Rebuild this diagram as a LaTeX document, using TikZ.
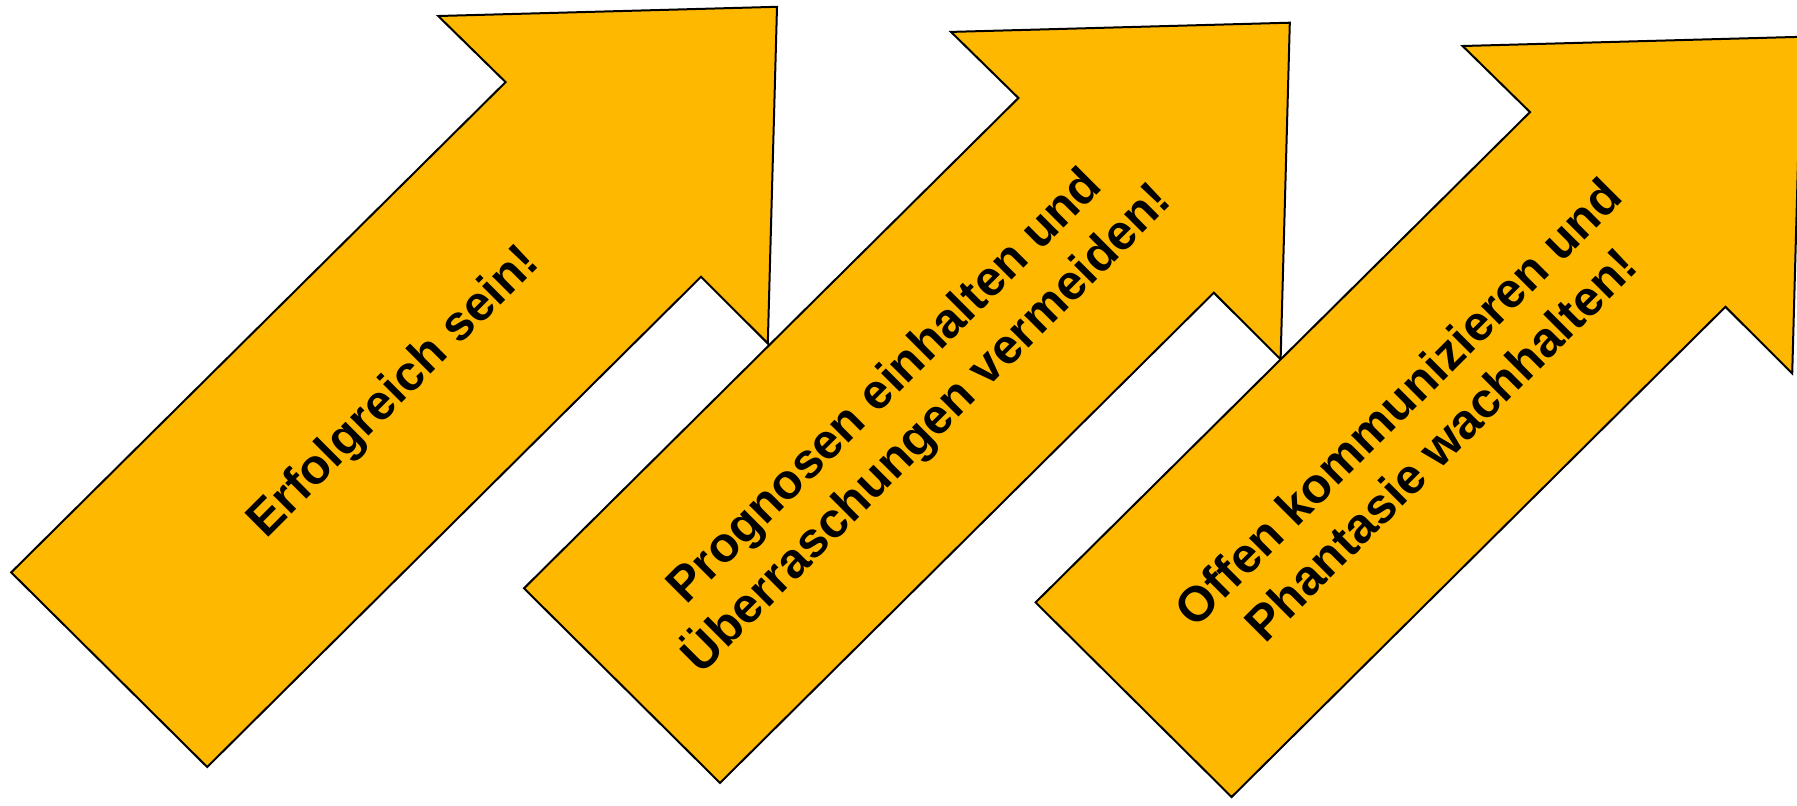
\documentclass[tikz,border=0pt]{standalone}
\usepackage{fontspec}
\setmainfont{Liberation Sans}
\usepackage{tikz}
\usetikzlibrary{positioning}
\definecolor{arrowfill}{HTML}{FFB800}
\tikzset{
  arrowbody/.style={fill=arrowfill,draw=black,line width=0.2mm,line join=miter},
  arrowtext/.style={rotate=45,align=center,font=\fontsize{14}{17}\selectfont\bfseries,inner sep=0pt}
}
% one arrow: #1 name, #2 left corner, #3 text
\newcommand{\stagearrow}[3]{%
  \begin{scope}[shift={#2}]
    \draw[arrowbody] (0,0) -- (196,194.6) -- (689.8,-295.6) -- (756.6,-229)
      -- (765.8,-565.6) -- (427,-556.4) -- (494.4,-490.3) -- cycle;
    \node[arrowtext] (#1) at (383.5,-179.4) {#3};
  \end{scope}
}

\begin{document}
\begin{tikzpicture}[x=0.01cm,y=-0.01cm]
  \useasboundingbox (0,0) rectangle (1797,805);
  \stagearrow{erfolg}{(11.2,572.4)}{Erfolgreich sein!}
  \stagearrow{prognose}{(524,588.3)}{Prognosen einhalten und\\Überraschungen vermeiden!}
  \stagearrow{offen}{(1035.6,602.4)}{Offen kommunizieren und\\Phantasie wachhalten!}
\end{tikzpicture}
\end{document}
